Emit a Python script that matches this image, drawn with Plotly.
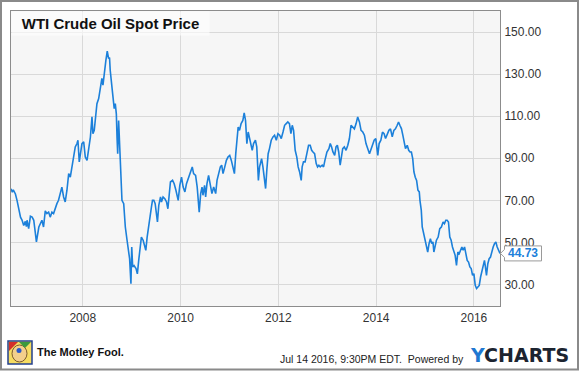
import plotly.graph_objects as go

# ---------------- data ----------------
title_text = "WTI Crude Oil Spot Price"

dates = [
    "2006-07-14", "2006-07-24", "2006-07-31", "2006-08-16", "2006-08-28", "2006-09-10", "2006-09-23",
    "2006-10-05", "2006-10-17", "2006-10-29", "2006-11-06", "2006-11-11", "2006-11-23", "2006-12-06",
    "2006-12-19", "2006-12-31",
    "2007-01-13", "2007-01-20", "2007-02-07", "2007-02-19", "2007-03-02", "2007-03-14", "2007-03-27",
    "2007-04-08", "2007-04-21", "2007-05-03", "2007-05-16", "2007-05-28", "2007-06-10", "2007-06-22",
    "2007-07-04", "2007-07-17", "2007-07-29", "2007-08-11", "2007-08-23", "2007-09-05", "2007-09-18",
    "2007-09-30", "2007-10-12", "2007-10-25", "2007-11-06", "2007-11-19", "2007-11-26", "2007-12-06",
    "2007-12-14", "2007-12-26",
    "2008-01-08", "2008-01-20", "2008-02-02", "2008-02-14", "2008-02-27", "2008-03-10", "2008-03-17",
    "2008-03-27", "2008-04-04", "2008-04-16", "2008-04-29", "2008-05-11", "2008-05-23", "2008-05-31",
    "2008-06-10", "2008-06-22", "2008-07-02", "2008-07-12", "2008-07-19", "2008-07-24", "2008-08-06",
    "2008-08-18", "2008-08-23", "2008-08-31", "2008-09-08", "2008-09-13", "2008-09-18", "2008-09-25",
    "2008-10-03", "2008-10-13", "2008-10-20", "2008-11-02", "2008-11-07", "2008-11-14", "2008-11-27",
    "2008-12-09", "2008-12-16", "2008-12-26",
    "2009-01-01", "2009-01-08", "2009-01-18", "2009-02-02", "2009-02-12", "2009-02-22", "2009-03-02",
    "2009-03-14", "2009-03-27", "2009-04-08", "2009-04-16", "2009-04-26", "2009-05-08", "2009-05-16",
    "2009-05-28", "2009-06-05", "2009-06-15", "2009-06-25", "2009-07-04", "2009-07-12", "2009-07-22",
    "2009-08-04", "2009-08-11", "2009-08-23", "2009-09-05", "2009-09-18", "2009-09-28", "2009-10-07",
    "2009-10-17", "2009-11-02", "2009-11-14", "2009-11-27", "2009-12-14", "2009-12-26",
    "2010-01-08", "2010-01-20", "2010-02-02", "2010-02-14", "2010-02-27", "2010-03-14", "2010-03-29",
    "2010-04-08", "2010-04-23", "2010-05-05", "2010-05-15", "2010-05-20", "2010-05-31", "2010-06-10",
    "2010-06-17", "2010-06-29", "2010-07-07", "2010-07-17", "2010-07-29", "2010-08-11", "2010-08-23",
    "2010-09-05", "2010-09-20", "2010-09-30", "2010-10-15", "2010-10-25", "2010-11-04", "2010-11-14",
    "2010-11-27", "2010-12-09", "2010-12-21",
    "2011-01-03", "2011-01-15", "2011-01-28", "2011-02-07", "2011-02-17", "2011-02-27", "2011-03-07",
    "2011-03-17", "2011-03-29", "2011-04-11", "2011-04-21", "2011-05-01", "2011-05-11", "2011-05-21",
    "2011-06-01", "2011-06-13", "2011-06-20", "2011-06-30", "2011-07-14", "2011-07-24", "2011-08-05",
    "2011-08-14", "2011-08-19", "2011-08-29", "2011-09-08", "2011-09-18", "2011-09-28", "2011-10-07",
    "2011-10-17", "2011-10-27", "2011-11-09", "2011-11-22", "2011-12-04", "2011-12-17", "2011-12-29",
    "2012-01-11", "2012-01-23", "2012-02-05", "2012-02-17", "2012-02-29", "2012-03-12", "2012-03-24",
    "2012-04-04", "2012-04-14", "2012-04-24", "2012-05-06", "2012-05-18", "2012-05-28", "2012-06-08",
    "2012-06-20", "2012-06-27", "2012-07-07", "2012-07-19", "2012-08-01", "2012-08-14", "2012-08-26",
    "2012-09-06", "2012-09-16", "2012-09-28", "2012-10-10", "2012-10-20", "2012-10-30", "2012-11-09",
    "2012-11-24", "2012-12-04", "2012-12-14", "2012-12-29",
    "2013-01-13", "2013-01-23", "2013-02-02", "2013-02-12", "2013-02-25", "2013-03-07", "2013-03-17",
    "2013-03-27", "2013-04-07", "2013-04-16", "2013-04-26", "2013-05-08", "2013-05-21", "2013-06-03",
    "2013-06-15", "2013-06-27", "2013-07-10", "2013-07-22", "2013-08-04", "2013-08-16", "2013-08-29",
    "2013-09-10", "2013-09-23", "2013-10-05", "2013-10-17", "2013-10-30", "2013-11-12", "2013-12-04",
    "2013-12-17", "2013-12-29",
    "2014-01-06", "2014-01-13", "2014-01-23", "2014-02-05", "2014-02-17", "2014-03-01", "2014-03-12",
    "2014-03-24", "2014-04-06", "2014-04-18", "2014-05-01", "2014-05-13", "2014-05-25", "2014-06-07",
    "2014-06-17", "2014-06-27", "2014-07-09", "2014-07-19", "2014-07-29", "2014-08-08", "2014-08-21",
    "2014-09-01", "2014-09-11", "2014-09-21", "2014-10-01", "2014-10-10", "2014-10-20", "2014-10-30",
    "2014-11-09", "2014-11-19", "2014-11-24", "2014-12-04", "2014-12-11", "2014-12-21",
    "2015-01-01", "2015-01-11", "2015-01-21", "2015-01-31", "2015-02-10", "2015-02-20", "2015-03-01",
    "2015-03-08", "2015-03-17", "2015-03-27", "2015-04-09", "2015-04-21", "2015-05-03", "2015-05-16",
    "2015-05-26", "2015-06-05", "2015-06-15", "2015-06-25", "2015-07-05", "2015-07-15", "2015-07-25",
    "2015-08-04", "2015-08-14", "2015-08-24", "2015-09-03", "2015-09-13", "2015-09-23", "2015-10-03",
    "2015-10-13", "2015-10-23", "2015-11-02", "2015-11-12", "2015-11-22", "2015-12-02", "2015-12-12",
    "2015-12-22",
    "2016-01-01", "2016-01-11", "2016-01-21", "2016-02-01", "2016-02-10", "2016-02-20", "2016-03-01",
    "2016-03-10", "2016-03-20", "2016-03-27", "2016-04-04", "2016-04-14", "2016-04-24", "2016-05-04",
    "2016-05-14", "2016-05-24", "2016-06-03", "2016-06-13", "2016-06-23", "2016-07-03", "2016-07-14",
]

prices = [
    75.5, 73.8, 75.0, 73.0, 70.0, 65.0, 62.0,
    60.5, 58.0, 60.0, 57.5, 60.5, 56.5, 62.4,
    62.0, 60.5,
    54.0, 50.2, 57.3, 59.0, 60.5, 57.3, 65.0,
    63.7, 64.4, 62.0, 64.4, 63.7, 66.8, 68.4,
    70.0, 73.2, 76.3, 71.6, 69.2, 74.8, 82.7,
    81.0, 85.9, 92.2, 95.4, 97.0, 98.6, 88.3,
    92.2, 97.0,
    97.8, 90.6, 89.0, 95.4, 100.0, 109.7, 101.7,
    103.3, 109.7, 116.0, 118.4, 124.0, 128.0, 124.8,
    132.0, 136.7, 141.0, 137.5, 138.0, 132.0, 124.0,
    116.0, 113.6, 116.0, 111.0, 100.0, 92.2, 108.0,
    95.4, 81.0, 70.0, 68.4, 63.7, 57.3, 51.0,
    44.6, 42.2, 30.3,
    47.8, 38.3, 39.0, 37.5, 35.0, 41.4, 46.2,
    52.5, 51.0, 47.8, 46.2, 52.5, 58.9, 60.5,
    66.8, 70.0, 70.0, 68.4, 62.0, 59.7, 67.6,
    71.6, 69.2, 71.6, 70.8, 69.2, 66.0, 71.6,
    78.7, 79.5, 77.9, 74.8, 70.0, 77.1,
    81.0, 76.3, 74.0, 77.9, 80.3, 82.7, 85.9,
    82.7, 81.9, 76.3, 68.4, 64.4, 73.2, 76.3,
    72.4, 77.1, 71.6, 77.9, 81.9, 76.3, 73.2,
    76.3, 73.2, 79.5, 82.7, 85.9, 86.7, 82.7,
    85.9, 89.0, 90.6,
    91.4, 89.0, 85.9, 82.7, 92.2, 101.7, 104.9,
    103.3, 106.5, 108.0, 111.6, 108.0, 97.0, 102.5,
    99.4, 96.2, 93.8, 97.0, 98.6, 95.4, 79.5,
    85.9, 87.5, 89.8, 85.9, 81.0, 75.6, 84.3,
    92.2, 94.6, 98.6, 100.2, 101.0, 98.6, 101.7,
    101.0, 99.4, 102.5, 105.7, 106.5, 107.3, 106.5,
    101.7, 105.7, 103.3, 93.8, 90.6, 85.9, 83.5,
    79.5, 85.9, 88.3, 88.3, 92.2, 96.2, 96.2,
    93.8, 93.0, 92.2, 87.5, 85.9, 86.7, 85.9,
    86.7, 85.9, 89.0, 93.0,
    94.6, 97.0, 95.4, 93.0, 91.4, 95.4, 96.2,
    93.0, 86.7, 90.6, 94.6, 95.4, 93.8, 96.2,
    99.4, 105.7, 104.9, 104.0, 106.5, 109.7, 107.3,
    103.3, 102.5, 101.0, 97.0, 94.6, 92.2, 96.2,
    98.6, 99.4,
    95.4, 91.4, 97.0, 98.6, 102.5, 101.7, 99.4,
    101.7, 103.3, 104.0, 100.2, 103.3, 104.0, 105.7,
    107.3, 105.7, 104.0, 101.0, 97.0, 94.6, 96.2,
    93.8, 93.0, 93.0, 89.8, 83.5, 81.0, 79.5,
    74.8, 74.0, 70.0, 65.2, 57.3, 54.1,
    51.0, 47.8, 45.4, 49.4, 51.7, 49.4, 50.2,
    45.4, 47.8, 51.0, 52.5, 56.5, 57.3, 59.7,
    58.9, 60.5, 60.5, 59.7, 52.5, 51.0, 47.8,
    46.2, 43.8, 39.0, 45.4, 44.6, 46.2, 47.8,
    46.2, 47.8, 44.6, 41.4, 40.6, 38.3, 37.5,
    34.3,
    35.1, 29.5, 28.0, 28.7, 29.5, 33.5, 35.9,
    38.3, 41.4, 38.3, 34.3, 39.8, 42.2, 43.0,
    46.2, 47.8, 49.4, 50.2, 47.8, 46.2, 44.73,
]

x_tick_dates = ["2008-01-01", "2010-01-01", "2012-01-01", "2014-01-01", "2016-01-01"]
x_tick_labels = ["2008", "2010", "2012", "2014", "2016"]
y_tick_values = [30, 50, 70, 90, 110, 130, 150]
last_value = prices[-1]

footer_date = "Jul 14 2016, 9:30PM EDT.  Powered by"
footer_brand = "The Motley Fool."

# ---------------- layout geometry ----------------
FIG_W, FIG_H = 580, 371
M_L, M_R, M_T, M_B = 11, 80, 11, 65
PW = FIG_W - M_L - M_R
PH = FIG_H - M_T - M_B
Y_RANGE = [19.7, 160.1]
X_RANGE = ["2006-07-14", "2016-07-14"]

LINE_BLUE = "#1c80da"
FONT = "Arial, 'Liberation Sans', sans-serif"


def px(x):
    return (x - M_L) / PW


def py(y):
    return (M_T + PH - y) / PH


fig = go.Figure()
fig.add_trace(go.Scatter(
    x=dates, y=prices, mode="lines",
    line=dict(color=LINE_BLUE, width=1.6),
    hoverinfo="x+y", showlegend=False,
))

shapes = []
# outer frame
shapes.append(dict(type="rect", xref="paper", yref="paper",
                   x0=px(1), x1=px(578), y0=py(369.5), y1=py(1),
                   line=dict(color="#8a8a8a", width=2), fillcolor="rgba(0,0,0,0)", layer="above"))

# last-value callout box with notch
vy_paper = (last_value - Y_RANGE[0]) / (Y_RANGE[1] - Y_RANGE[0])
cy = M_T + PH - vy_paper * PH
bl, br, tip = 504.5, 541.5, 500.5
pts = [(tip, cy), (bl, cy - 4), (bl, cy - 7.5), (br, cy - 7.5), (br, cy + 7.5), (bl, cy + 7.5), (bl, cy + 4)]
path = "M " + " L ".join(f"{px(a):.5f},{py(b):.5f}" for a, b in pts) + " Z"
shapes.append(dict(type="path", xref="paper", yref="paper", path=path,
                   fillcolor="white", line=dict(color="#9a9a9a", width=1), layer="above"))

# Motley Fool jester logo (simplified)
shapes.append(dict(type="rect", xref="paper", yref="paper",
                   x0=px(8), x1=px(32), y0=py(364), y1=py(341),
                   fillcolor="#f6dc62", line=dict(color="#23408f", width=1.5), layer="above"))
shapes.append(dict(type="circle", xref="paper", yref="paper",
                   x0=px(12), x1=px(27), y0=py(362), y1=py(345),
                   fillcolor="#f3cf8c", line=dict(color="#5a3a1a", width=0.8), layer="above"))
shapes.append(dict(type="path", xref="paper", yref="paper",
                   path=f"M {px(9)},{py(342)} L {px(18)},{py(342)} L {px(9)},{py(351)} Z",
                   fillcolor="#d3302a", line=dict(width=0), layer="above"))
shapes.append(dict(type="path", xref="paper", yref="paper",
                   path=f"M {px(19)},{py(342)} L {px(31)},{py(342)} L {px(25)},{py(348)} Z",
                   fillcolor="#3c9a3c", line=dict(width=0), layer="above"))
shapes.append(dict(type="circle", xref="paper", yref="paper",
                   x0=px(16.5), x1=px(21.5), y0=py(353), y1=py(348),
                   fillcolor="#2a58c8", line=dict(width=0), layer="above"))

annotations = [
    dict(text=f"<b>{title_text}</b>", xref="paper", yref="paper", x=0, y=1,
         xanchor="left", yanchor="top", showarrow=False, align="center",
         width=191, borderpad=3, bgcolor="rgba(255,255,255,0.6)",
         font=dict(family=FONT, size=15, color="#111111")),
    dict(text=f"<b>{last_value:.2f}</b>", xref="paper", yref="paper",
         x=px((bl + br) / 2), y=py(cy), xanchor="center", yanchor="middle", showarrow=False,
         font=dict(family=FONT, size=12, color=LINE_BLUE)),
    dict(text=f"<b>{footer_brand}</b>", xref="paper", yref="paper",
         x=px(35), y=py(351.5), xanchor="left", yanchor="middle", showarrow=False,
         font=dict(family=FONT, size=11, color="#111111")),
    dict(text=footer_date, xref="paper", yref="paper",
         x=px(465.5), y=py(358.5), xanchor="right", yanchor="middle", showarrow=False,
         font=dict(family=FONT, size=10.5, color="#222222")),
    dict(text="<b><span style='color:#1f78d1'>Y</span>CHARTS</b>", xref="paper", yref="paper",
         x=px(467.5), y=py(354.5), xanchor="left", yanchor="middle", showarrow=False,
         font=dict(family="'DejaVu Sans', sans-serif", size=19, color="#1c2430")),
]

fig.update_layout(
    width=FIG_W, height=FIG_H,
    margin=dict(l=M_L, r=M_R, t=M_T, b=M_B, pad=0),
    paper_bgcolor="white", plot_bgcolor="#f6f6f6",
    showlegend=False, shapes=shapes, annotations=annotations,
    font=dict(family=FONT, size=12, color="#333333"),
    xaxis=dict(type="date", range=X_RANGE, tickmode="array", tickvals=x_tick_dates,
               ticktext=x_tick_labels, showgrid=True, gridcolor="#d9d9d9", gridwidth=1,
               showline=True, mirror=True, linecolor="#8c8c8c", linewidth=1,
               ticks="outside", ticklen=1, tickcolor="rgba(0,0,0,0)", zeroline=False,
               tickfont=dict(family=FONT, size=12, color="#333333")),
    yaxis=dict(side="right", range=Y_RANGE, tickmode="array", tickvals=y_tick_values,
               tickformat=".2f", showgrid=True, gridcolor="#d9d9d9", gridwidth=1,
               showline=True, mirror=True, linecolor="#8c8c8c", linewidth=1,
               ticks="outside", ticklen=1, tickcolor="rgba(0,0,0,0)", zeroline=False,
               tickfont=dict(family=FONT, size=12, color="#333333")),
)

fig.write_html("out.html", config={"displayModeBar": False},
               post_script="document.body.style.margin='0';document.body.style.overflow='hidden';")
